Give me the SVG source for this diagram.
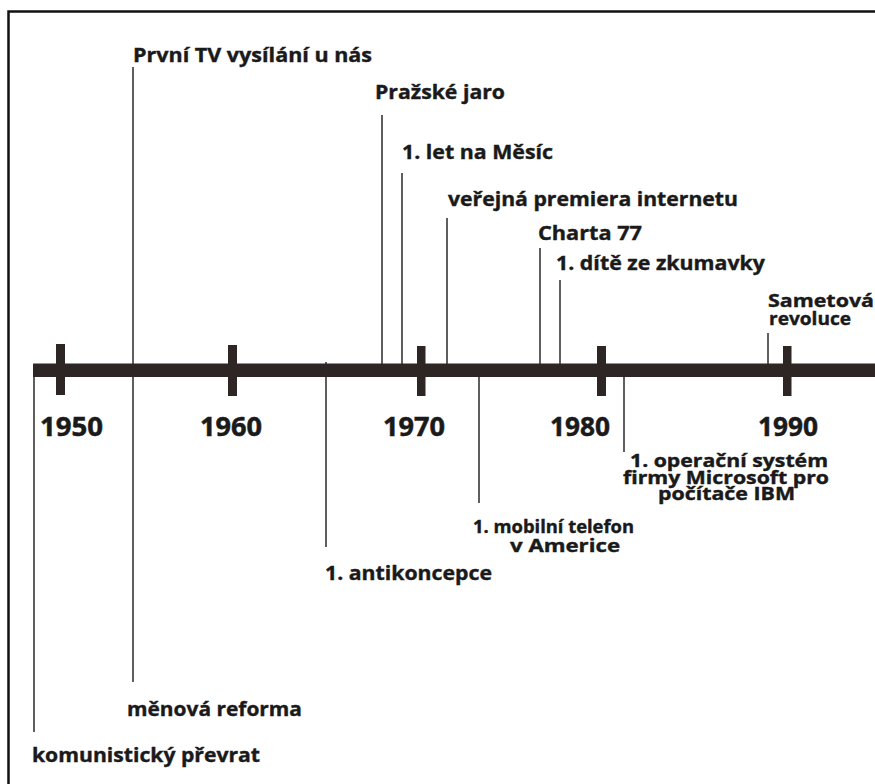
<svg xmlns="http://www.w3.org/2000/svg" width="875" height="784" viewBox="0 0 875 784">
<style>
.lbl{font-family:"Open Sans","Liberation Sans",sans-serif;font-weight:700;font-size:20px;fill:#1a1a1a;stroke:#1a1a1a;stroke-width:0.4}
.yr{font-family:"Open Sans","Liberation Sans",sans-serif;font-weight:700;font-size:26px;fill:#1a1a1a;stroke:#1a1a1a;stroke-width:0.5}
.ml{font-size:18px}
.conn line{stroke:#2a2a2a;stroke-width:1.5}
.tick{fill:#2e2624}
</style>
<rect width="875" height="784" fill="#ffffff"/>
<path d="M8.5 784 V11.5 H875" fill="none" stroke="#111" stroke-width="2.5"/>
<rect id="axis" x="33" y="363.5" width="842" height="13.5" fill="#2e2624"/>
<g id="connectors" class="conn">
<line x1="133" y1="67" x2="133" y2="364"/>
<line x1="133" y1="377" x2="133" y2="682"/>
<line x1="34" y1="377" x2="34" y2="732"/>
<line x1="326" y1="362" x2="326" y2="547"/>
<line x1="382" y1="115" x2="382" y2="364"/>
<line x1="402" y1="173" x2="402" y2="364"/>
<line x1="447" y1="218" x2="447" y2="364"/>
<line x1="479" y1="377" x2="479" y2="503"/>
<line x1="540" y1="248" x2="540" y2="364"/>
<line x1="560" y1="280" x2="560" y2="364"/>
<line x1="624" y1="377" x2="624" y2="452"/>
<line x1="768" y1="333" x2="768" y2="364"/>
</g>
<g id="y1950"><rect class="tick" x="56" y="344" width="9" height="51"/><text class="yr" x="40" y="436" textLength="63" lengthAdjust="spacingAndGlyphs">1950</text></g>
<g id="y1960"><rect class="tick" x="228" y="345" width="9" height="51"/><text class="yr" x="200" y="436" textLength="62" lengthAdjust="spacingAndGlyphs">1960</text></g>
<g id="y1970"><rect class="tick" x="417" y="346" width="8.5" height="50"/><text class="yr" x="383" y="436" textLength="62" lengthAdjust="spacingAndGlyphs">1970</text></g>
<g id="y1980"><rect class="tick" x="597" y="346" width="9" height="50"/><text class="yr" x="550" y="436" textLength="60" lengthAdjust="spacingAndGlyphs">1980</text></g>
<g id="y1990"><rect class="tick" x="783" y="346" width="8.5" height="50"/><text class="yr" x="758" y="436" textLength="60" lengthAdjust="spacingAndGlyphs">1990</text></g>
<g id="e-tv"><text class="lbl" x="133" y="62" textLength="239" lengthAdjust="spacingAndGlyphs">První TV vysílání u nás</text></g>
<g id="e-jaro"><text class="lbl" x="375" y="99" textLength="130" lengthAdjust="spacingAndGlyphs">Pražské jaro</text></g>
<g id="e-mesic"><text class="lbl" x="402" y="159" textLength="151" lengthAdjust="spacingAndGlyphs">1. let na Měsíc</text></g>
<g id="e-internet"><text class="lbl" x="448" y="206" textLength="290" lengthAdjust="spacingAndGlyphs">veřejná premiera internetu</text></g>
<g id="e-charta"><text class="lbl" x="538" y="240" textLength="104" lengthAdjust="spacingAndGlyphs">Charta 77</text></g>
<g id="e-zkumavka"><text class="lbl" x="556" y="270" textLength="209" lengthAdjust="spacingAndGlyphs">1. dítě ze zkumavky</text></g>
<g id="e-sametova"><text class="lbl ml" x="768" y="307" textLength="106" lengthAdjust="spacingAndGlyphs">Sametová</text><text class="lbl ml" x="769" y="325" textLength="82" lengthAdjust="spacingAndGlyphs">revoluce</text></g>
<g id="e-os"><text class="lbl ml" x="630" y="467" textLength="198" lengthAdjust="spacingAndGlyphs">1. operační systém</text><text class="lbl ml" x="623" y="484" textLength="206" lengthAdjust="spacingAndGlyphs">firmy Microsoft pro</text><text class="lbl ml" x="658" y="500" textLength="137" lengthAdjust="spacingAndGlyphs">počítače IBM</text></g>
<g id="e-mobil"><text class="lbl ml" x="473" y="533" textLength="161" lengthAdjust="spacingAndGlyphs">1. mobilní telefon</text><text class="lbl ml" x="510" y="552" textLength="110" lengthAdjust="spacingAndGlyphs">v Americe</text></g>
<g id="e-antikoncepce"><text class="lbl" x="325" y="580" textLength="167" lengthAdjust="spacingAndGlyphs">1. antikoncepce</text></g>
<g id="e-menova"><text class="lbl" x="127" y="716" textLength="175" lengthAdjust="spacingAndGlyphs">měnová reforma</text></g>
<g id="e-prevrat"><text class="lbl" x="32" y="762" textLength="228" lengthAdjust="spacingAndGlyphs">komunistický převrat</text></g>
</svg>
